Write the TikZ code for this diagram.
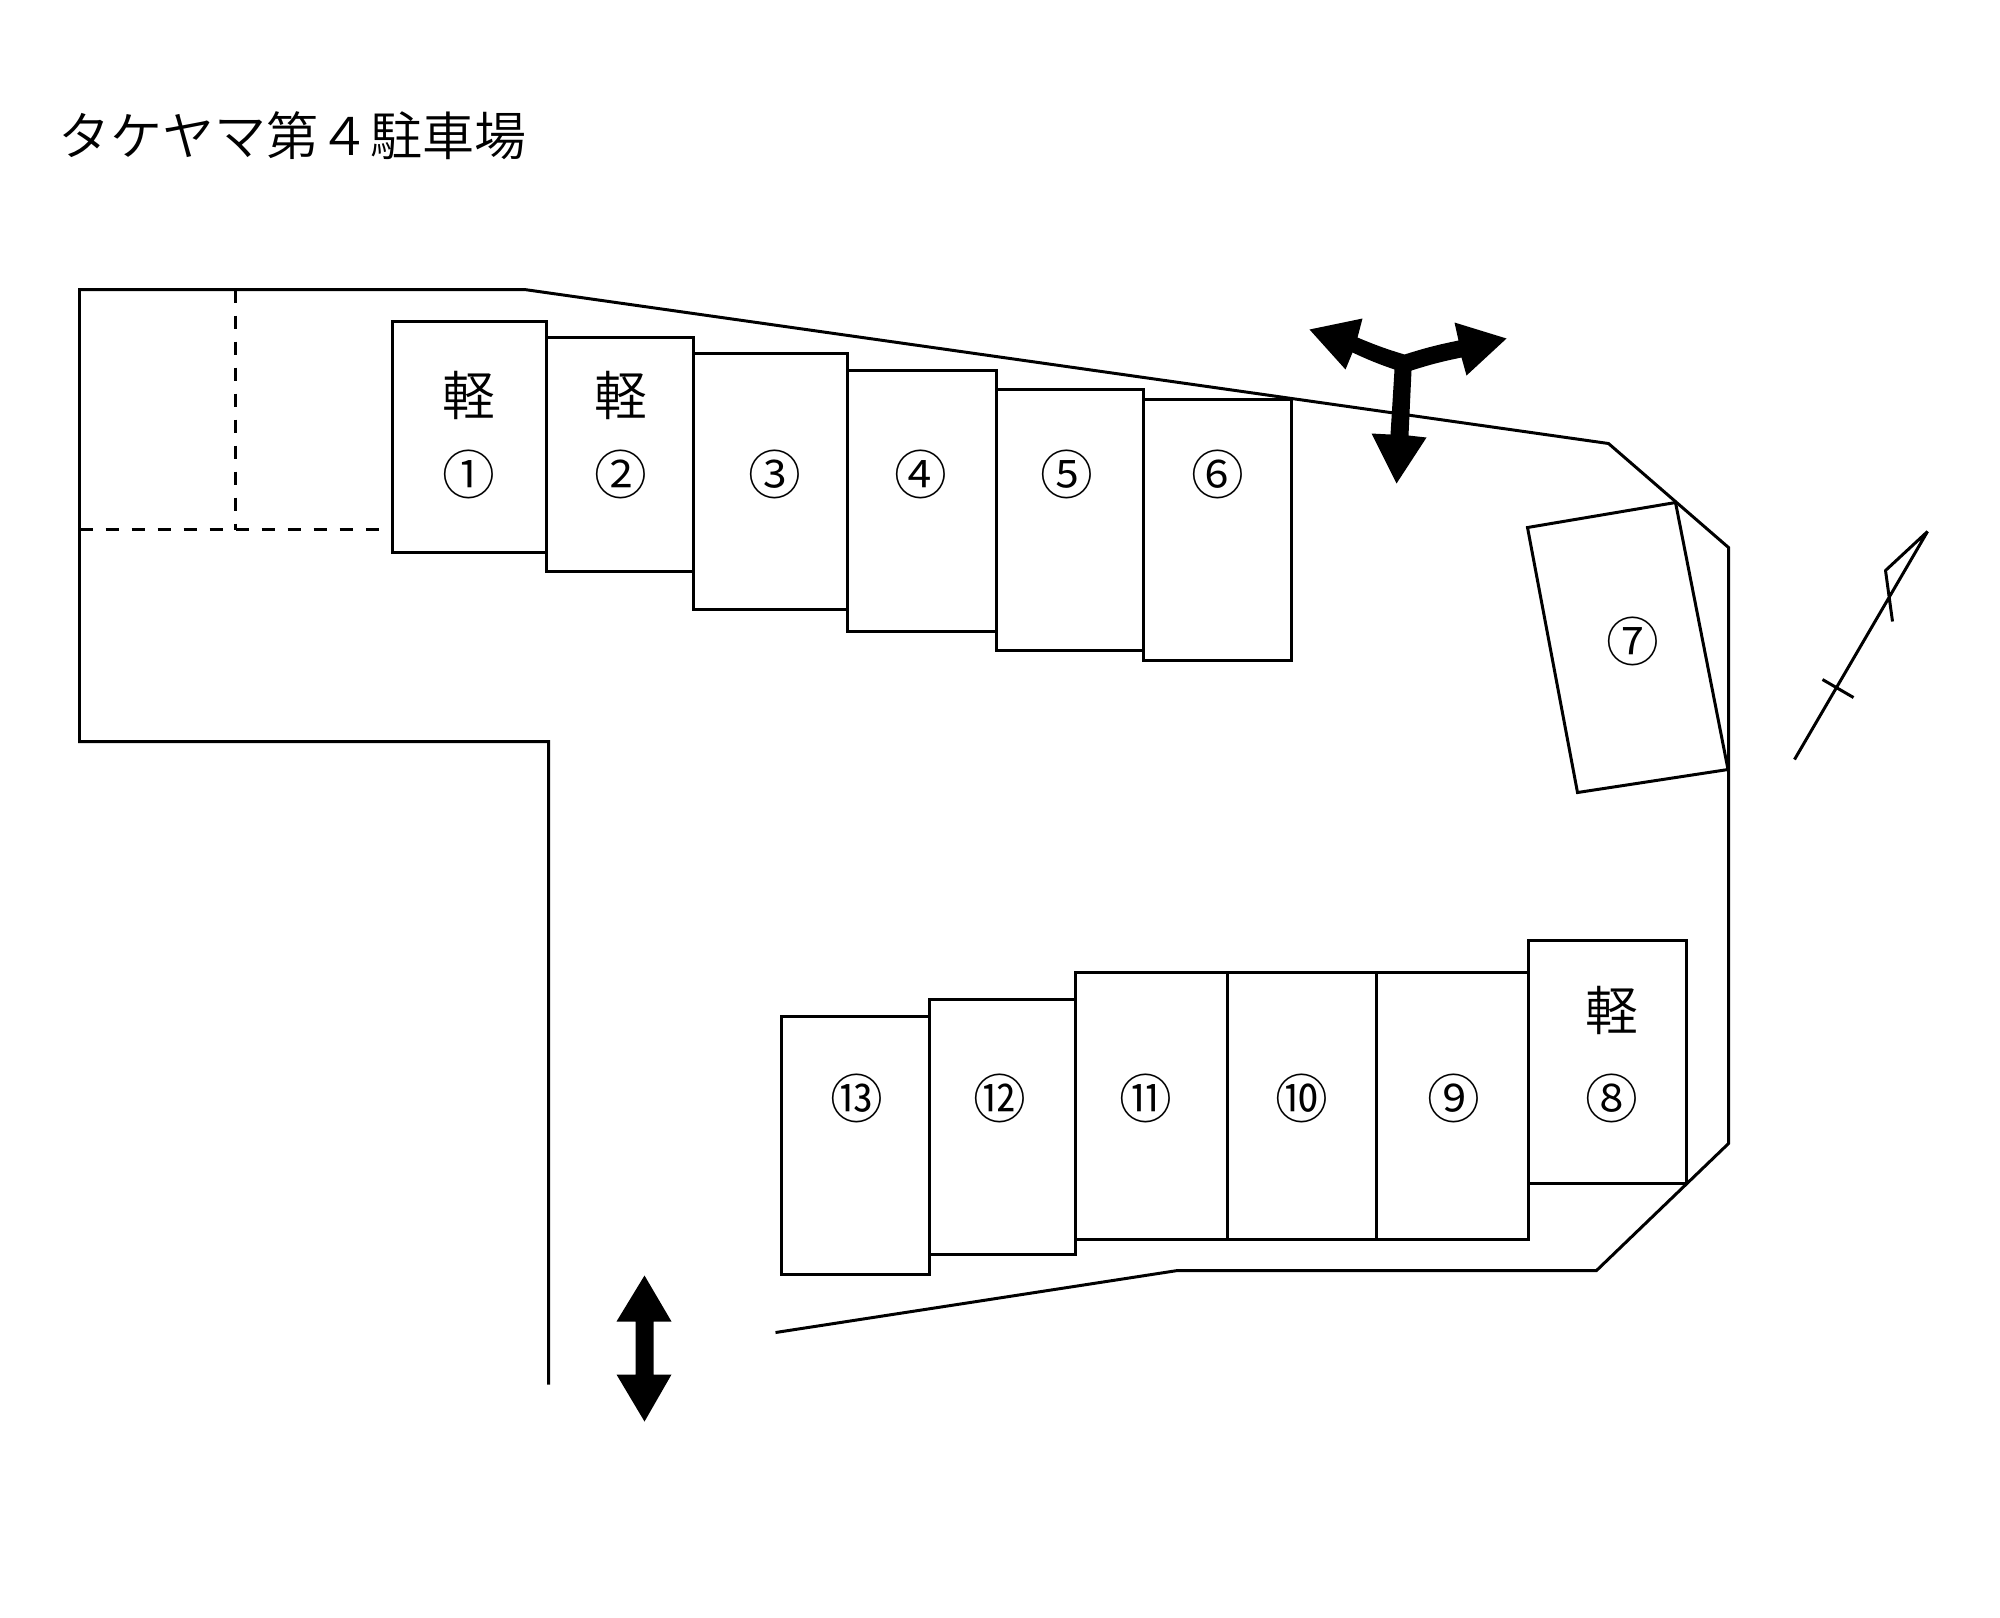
\documentclass[tikz,border=0pt]{standalone}
\usepackage{fontspec}
\setmainfont{Noto Sans CJK JP DemiLight}

\tikzset{
	plan/.style={line width=0.85pt},
	bay/.style={plan, line join=miter},
	label/.style={inner sep=0pt, font=\fontsize{15pt}{15pt}\selectfont},
	sign/.style={fill=black, draw=none}
}

\begin{document}
\begin{tikzpicture}[x=0.01cm, y=-0.01cm]
	\useasboundingbox (-0.5, -0.5) rectangle (1999.5, 1616.5);

	\node (title) [label, font=\fontsize{14.8pt}{14.8pt}\selectfont] at (292, 135) {タケヤマ第４駐車場};

	\draw [plan] (775, 1332) -- (1177, 1270) -- (1596, 1270) -- (1728, 1143) -- (1728, 547) -- (1608, 443) -- (524, 289) -- (79, 289) -- (79, 741) -- (548, 741) -- (548, 1384);

	\draw [plan, line width=1pt, dash pattern=on 3.7pt off 3.7pt] (235, 289) -- (235, 529);
	\draw [plan, line width=1pt, dash pattern=on 3.7pt off 3.7pt] (79, 529) -- (379, 529);

	\foreach \i/\l/\t/\r/\b in {1/392/321/546/552, 2/546/337/693/571, 3/693/353/847/609, 4/847/370/996/631, 5/996/389/1143/650, 6/1143/399/1291/660, 8/1528/940/1686/1183, 9/1376/972/1528/1239, 10/1227/972/1376/1239, 11/1075/972/1227/1239, 12/929/999/1075/1254, 13/781/1016/929/1274} {
		\draw [bay] (\l, \t) coordinate (b\i) rectangle (\r, \b);
	}
	\draw [bay] (1527, 527) -- (1675, 502) -- (1727.5, 769) -- (1577, 792) -- cycle;

	\foreach \i/\x/\y/\n in {1/468.5/473.5/①, 2/620.5/473.5/②, 3/774.5/473.5/③, 4/920/473.5/④, 5/1066.5/473.5/⑤, 6/1217.5/473.5/⑥, 7/1632/640.5/⑦, 8/1611/1097.5/⑧, 9/1453.5/1097.5/⑨, 10/1301.5/1097.5/⑩, 11/1145.5/1097.5/⑪, 12/999.5/1097.5/⑫, 13/856.5/1097.5/⑬} {
		\node (n\i) [label] at (\x, \y) {\n};
	}

	\foreach \i/\x/\y in {1/468/395, 2/620/395, 8/1611/1010} {
		\node (k\i) [label] at (\x, \y) {軽};
	}

	\fill [sign] (1404, 354) to [bend left=3] (1458, 340) -- (1454, 322) -- (1506, 338) -- (1466, 375) -- (1461, 357) to [bend right=3] (1411, 370) -- (1408, 435) -- (1426, 437) -- (1396, 483) -- (1371, 433) -- (1390, 434) -- (1394, 369) to [bend left=3] (1352, 352) -- (1345, 369) -- (1309, 329) -- (1362, 318) -- (1357, 337) to [bend right=3] cycle;

	\fill [sign] (644, 1275) -- (671, 1321) -- (653, 1321) -- (653, 1374) -- (671, 1374) -- (644, 1421) -- (616, 1374) -- (635, 1374) -- (635, 1321) -- (616, 1321) -- cycle;

	\draw [plan, line join=bevel] (1794, 759) -- (1927, 531) -- (1885, 570) -- (1892, 621);
	\draw [plan] (1822, 679) -- (1853, 697);

\end{tikzpicture}
\end{document}
